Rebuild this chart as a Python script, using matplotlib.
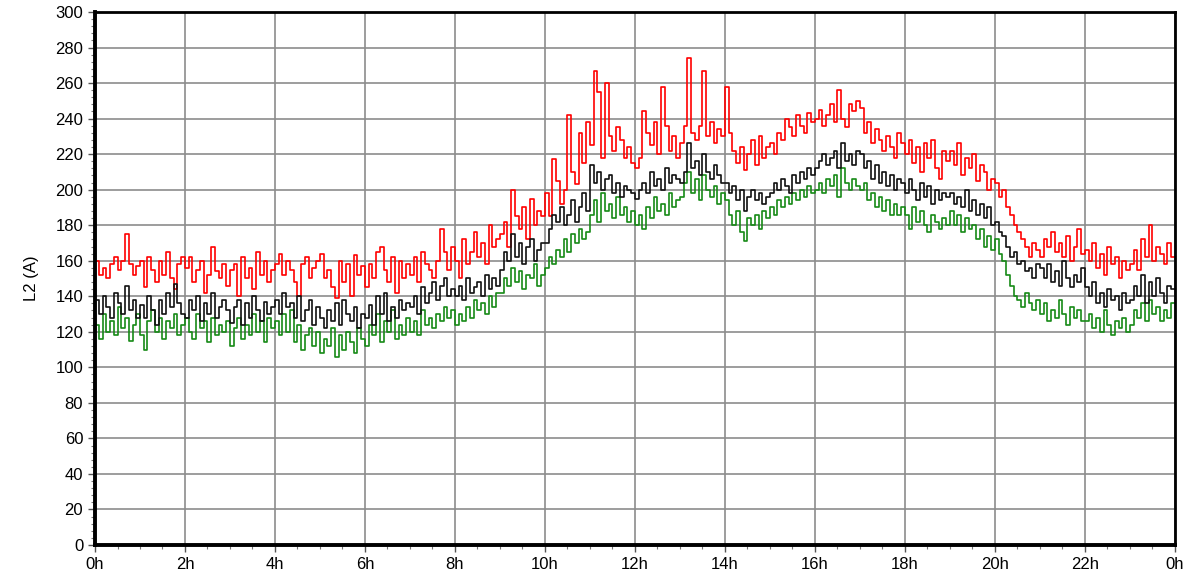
import numpy as np
import matplotlib.pyplot as plt
from matplotlib.ticker import MultipleLocator

plt.rcParams['font.family'] = ['Liberation Sans', 'DejaVu Sans']

# 5-minute readings, one row per hour
l2_max = [
    160, 152, 156, 150, 158, 162, 155, 160, 175, 158, 152, 157,
    160, 145, 162, 155, 148, 160, 152, 165, 150, 144, 158, 162,
    156, 162, 148, 155, 160, 142, 152, 168, 154, 150, 158, 146,
    155, 158, 140, 162, 150, 156, 144, 165, 152, 160, 148, 155,
    158, 164, 152, 160, 155, 148, 140, 158, 162, 150, 156, 160,
    164, 150, 155, 145, 139, 160, 148, 158, 140, 163, 152, 157,
    145, 158, 150, 165, 168, 155, 148, 162, 142, 160, 150, 158,
    152, 162, 148, 165, 158, 155, 150, 160, 178, 165, 155, 168,
    160, 150, 172, 158, 165, 176, 162, 170, 158, 180, 168, 172,
    175, 182, 168, 200, 185, 178, 190, 172, 195, 180, 188, 185,
    198, 185, 217, 205, 192, 200, 242, 210, 203, 232, 215, 238,
    225, 267, 255, 218, 260, 230, 222, 235, 228, 218, 224, 215,
    212, 218, 244, 232, 225, 238, 220, 258, 236, 222, 230, 218,
    226, 236, 274, 232, 228, 236, 267, 230, 238, 226, 234, 230,
    258, 232, 222, 215, 224, 211, 220, 228, 214, 230, 218, 224,
    226, 220, 232, 228, 240, 235, 230, 242, 236, 232, 243, 238,
    240, 245, 236, 242, 248, 238, 256, 240, 235, 248, 244, 250,
    246, 232, 238, 226, 234, 228, 222, 230, 224, 218, 232, 226,
    220, 228, 215, 224, 210, 226, 218, 228, 212, 206, 222, 216,
    222, 214, 226, 208, 218, 212, 220, 205, 214, 210, 200, 206,
    204, 196, 200, 190, 186, 180, 176, 172, 168, 162, 170, 166,
    162, 172, 168, 176, 165, 170, 162, 174, 160, 168, 178, 164,
    166, 160, 170, 156, 164, 152, 168, 158, 162, 150, 160, 155,
    158, 166, 155, 172, 162, 180, 160, 168, 164, 158, 170, 162,
]

l2_avg = [
    138, 130, 140, 134, 128, 142, 136, 130, 146, 132, 138, 128,
    135, 128, 140, 132, 124, 138, 130, 142, 134, 147, 136, 130,
    128, 138, 132, 140, 126, 136, 130, 142, 128, 134, 138, 132,
    125, 134, 138, 124, 136, 128, 140, 132, 126, 137, 130, 134,
    138, 130, 142, 134, 136, 128, 140, 126, 132, 138, 124, 134,
    128, 122, 132, 126, 136, 124, 138, 130, 126, 134, 122, 130,
    128, 135, 124, 140, 130, 142, 126, 134, 128, 138, 132, 136,
    134, 140, 130, 145, 136, 142, 148, 138, 146, 150, 140, 144,
    140, 146, 138, 150, 142, 145, 148, 140, 152, 144, 150, 146,
    155, 165, 160, 175, 162, 170, 158, 168, 172, 160, 166, 170,
    170, 178, 186, 182, 190, 180, 186, 194, 182, 190, 198, 188,
    214, 204, 210, 200, 206, 208, 198, 204, 196, 202, 200, 198,
    195, 200, 204, 198, 210, 202, 206, 200, 212, 204, 208, 206,
    204, 210, 226, 212, 216, 208, 220, 210, 206, 214, 208, 204,
    204, 198, 202, 194, 200, 188, 196, 200, 194, 198, 192, 196,
    198, 204, 200, 206, 202, 198, 208, 204, 210, 206, 212, 208,
    212, 216, 220, 214, 218, 222, 212, 226, 216, 220, 214, 222,
    220, 212, 216, 206, 214, 204, 210, 202, 208, 200, 206, 204,
    198, 206, 200, 194, 204, 196, 202, 192, 200, 194, 198, 196,
    198, 192, 196, 190, 200, 188, 194, 186, 192, 184, 190, 180,
    182, 176, 174, 168, 162, 165, 158, 160, 154, 156, 150, 158,
    156, 150, 158, 148, 154, 146, 160, 150, 145, 152, 148, 156,
    145, 140, 148, 136, 142, 134, 144, 138, 140, 132, 142, 136,
    138, 146, 140, 152, 136, 148, 140, 150, 142, 136, 146, 144,
]

l2_min = [
    124, 116, 130, 120, 126, 118, 134, 122, 128, 115, 124, 130,
    118, 110, 126, 132, 120, 128, 116, 126, 122, 130, 118, 124,
    128, 120, 116, 130, 122, 126, 114, 128, 118, 124, 120, 126,
    112, 122, 128, 116, 124, 118, 130, 120, 126, 114, 128, 122,
    126, 118, 130, 120, 132, 114, 124, 110, 118, 122, 112, 120,
    108, 116, 112, 122, 106, 118, 110, 120, 114, 108, 122, 116,
    112, 124, 118, 130, 114, 126, 120, 132, 116, 124, 118, 128,
    120, 126, 118, 132, 124, 128, 122, 130, 126, 134, 128, 132,
    124, 130, 126, 134, 128, 138, 132, 136, 130, 140, 134, 142,
    142, 150, 146, 156, 148, 154, 144, 152, 150, 158, 146, 152,
    156, 162, 158, 166, 162, 172, 165, 175, 170, 178, 172, 176,
    186, 194, 182, 198, 188, 192, 184, 196, 186, 190, 182, 188,
    180, 186, 178, 190, 184, 196, 188, 192, 186, 198, 190, 194,
    196, 204, 210, 198, 206, 194, 208, 200, 196, 202, 192, 198,
    194, 186, 180, 188, 176, 171, 184, 180, 186, 178, 188, 184,
    190, 186, 194, 190, 196, 192, 198, 194, 200, 196, 202, 198,
    200, 204, 198, 206, 202, 208, 196, 212, 204, 200, 206, 202,
    200, 204, 194, 198, 190, 196, 188, 194, 186, 192, 186, 190,
    186, 178, 190, 182, 188, 180, 176, 186, 182, 178, 184, 180,
    188, 180, 186, 176, 184, 178, 180, 172, 178, 168, 174, 166,
    172, 164, 160, 152, 146, 140, 138, 134, 142, 136, 132, 138,
    130, 136, 126, 132, 128, 138, 130, 124, 134, 128, 132, 126,
    126, 130, 122, 128, 120, 132, 124, 118, 126, 122, 128, 120,
    124, 132, 128, 136, 126, 138, 130, 134, 126, 132, 128, 136,
]

hour_ticks = list(range(0, 25, 2))
hour_labels = [f"{h % 24}h" for h in hour_ticks]

hours = np.arange(len(l2_max) + 1) / 12.0


def close_step(vals):
    return list(vals) + [vals[-1]]


fig = plt.figure(figsize=(11.89, 5.79), dpi=100)
ax = fig.add_axes([0.0799, 0.0587, 0.9083, 0.9206])

ax.step(hours, close_step(l2_max), where='post', color='#ff0000', lw=1.2)
ax.step(hours, close_step(l2_min), where='post', color='#178a17', lw=1.2)
ax.step(hours, close_step(l2_avg), where='post', color='#111111', lw=1.2)

ax.set_xlim(0, 24)
ax.set_ylim(0, 300)
ax.set_xticks(hour_ticks)
ax.set_xticklabels(hour_labels)
ax.xaxis.set_minor_locator(MultipleLocator(0.5))
ax.yaxis.set_major_locator(MultipleLocator(20))
ax.yaxis.set_minor_locator(MultipleLocator(4))

ax.grid(True, which='major', color='#8c8c8c', lw=1.2)
ax.set_axisbelow(True)
ax.tick_params(which='major', length=5, width=1, labelsize=12, color='#555555', labelcolor='black')
ax.tick_params(which='minor', length=3, width=0.8, color='#777777')
for side in ax.spines.values():
    side.set_linewidth(2)
    side.set_color('black')
ax.spines['left'].set_linewidth(2.8)
ax.spines['bottom'].set_linewidth(2.8)

ax.set_ylabel('L2 (A)', fontsize=12, labelpad=12)

fig.savefig('out.png', dpi=100)
